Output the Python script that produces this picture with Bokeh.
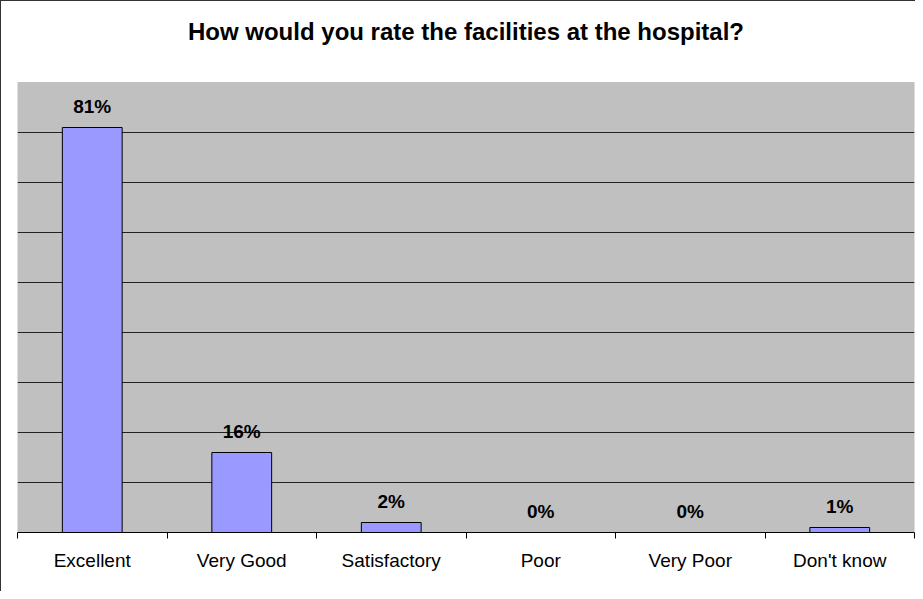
from bokeh.plotting import figure
from bokeh.models import FixedTicker, Range1d, ColumnDataSource, BoxAnnotation
from bokeh.core.properties import value
from bokeh.embed import file_html
from bokeh.resources import INLINE

title_text = "How would you rate the facilities at the hospital?"
categories = ["Excellent", "Very Good", "Satisfactory", "Poor", "Very Poor", "Don't know"]
values = [81, 16, 2, 0, 0, 1]
value_labels = ["81%", "16%", "2%", "0%", "0%", "1%"]
grid_ticks = [10, 20, 30, 40, 50, 60, 70, 80]
y_max = 90          # top of the grey plot area (axis maximum)

# layout constants (frame spans grey area plus the title band above it)
frame_h = 531
px_per_unit = 450 / y_max
y_top = frame_h / px_per_unit
title_y = y_top - 30 / px_per_unit

n = len(categories)
centers = [i + 0.5 for i in range(n)]
bounds = list(range(n + 1))

src = ColumnDataSource(dict(x=centers, top=values, label=value_labels))

p = figure(width=915, height=591, output_backend="svg", toolbar_location=None,
           x_range=Range1d(0, n), y_range=Range1d(0, y_top),
           min_border_left=16, min_border_right=2, min_border_top=0, min_border_bottom=60,
           background_fill_color="white", border_fill_color="white")
p.outline_line_color = None

plot_area = BoxAnnotation(bottom=0, top=y_max, fill_color="#C0C0C0", fill_alpha=1.0,
                          line_color="#808080", line_width=1, level="underlay")
p.center = [plot_area] + list(p.center)

p.text(x=[n / 2], y=[title_y], text=[title_text], text_align="center",
       text_baseline="alphabetic", text_font=value("Liberation Sans"),
       text_font_style="bold", text_font_size="24px", text_color="black")

p.vbar(x="x", top="top", width=0.4, bottom=0, source=src,
       fill_color="#9999FF", line_color="black", line_width=1)

p.text(x="x", y="top", text="label", source=src, y_offset=-21,
       text_align="center", text_baseline="alphabetic",
       text_font=value("Liberation Sans"), text_font_style="bold",
       text_font_size="19px", text_color="black")

p.yaxis.visible = False
p.ygrid.ticker = FixedTicker(ticks=grid_ticks)
p.ygrid.grid_line_color = "#222222"
p.ygrid.grid_line_width = 1
p.xgrid.visible = False

xa = p.xaxis[0]
xa.ticker = FixedTicker(ticks=centers, minor_ticks=bounds)
xa.major_label_overrides = {c: lab for c, lab in zip(centers, categories)}
xa.major_tick_out = 0
xa.major_tick_in = 0
xa.minor_tick_out = 6
xa.minor_tick_in = 0
xa.minor_tick_line_color = "black"
xa.axis_line_color = "black"
xa.axis_line_width = 1
xa.major_label_standoff = 11
xa.major_label_text_font = "Liberation Sans"
xa.major_label_text_font_size = "19px"
xa.major_label_text_color = "black"

p.styles = {"border-left": "1px solid #333333", "border-top": "1px solid #333333"}

open("out.html", "w").write(file_html(p, INLINE))
